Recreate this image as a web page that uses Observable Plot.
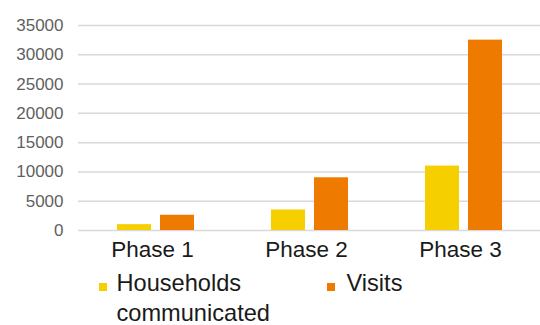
<!DOCTYPE html>
<html>
<head>
<meta charset="utf-8">
<script src="https://cdn.jsdelivr.net/npm/d3@7"></script>
<script src="https://cdn.jsdelivr.net/npm/@observablehq/plot@0.6"></script>
<style>
  html, body { margin: 0; padding: 0; background: #fff; }
  #wrap { position: relative; width: 540px; height: 325px; font-family: "Liberation Sans", Arial, sans-serif; }
  #chart svg { display: block; }
  .legend-item { position: absolute; font-size: 23.6px; line-height: 29.4px; color: #1a1a1a; white-space: nowrap; }
  .legend-item .swatch { position: absolute; width: 8px; height: 8px; }
</style>
</head>
<body>
<div id="wrap">
  <div id="chart"></div>
  <div id="legend"></div>
</div>
<script>
// Programme phases and the two measured series
const phases = ["Phase 1", "Phase 2", "Phase 3"];
const seriesNames = ["Households communicated", "Visits"];
const households = [1000, 3500, 11000];
const visits = [2600, 9000, 32500];
const yTicks = [0, 5000, 10000, 15000, 20000, 25000, 30000, 35000];
const colors = ["#F5CF00", "#EE7A00"];

const rows = phases.flatMap((p, i) => [
  {phase: p, series: seriesNames[0], value: households[i]},
  {phase: p, series: seriesNames[1], value: visits[i]}
]);

const chart = Plot.plot({
  width: 540,
  height: 265,
  marginTop: 25,
  marginBottom: 35,
  marginLeft: 77,
  marginRight: 0,
  style: {fontFamily: "'Liberation Sans', Arial, sans-serif", background: "#fff"},
  fx: {domain: phases, padding: 0, label: null},
  x: {domain: seriesNames, paddingInner: 0.21, paddingOuter: 0.88, axis: null},
  y: {domain: [0, 35000], ticks: yTicks, label: null},
  color: {domain: seriesNames, range: colors},
  marks: [
    Plot.gridY(yTicks, {stroke: "#d9d9d9", strokeOpacity: 1, strokeWidth: 1.5}),
    Plot.axisY(yTicks, {
      tickSize: 0, tickPadding: 15, tickFormat: d3.format("d"),
      fontSize: 17, fill: "#5f5f5f", label: null
    }),
    Plot.axisFx({
      anchor: "bottom", tickSize: 0, tickPadding: 11, fontSize: 22.5,
      fill: "#1a1a1a", label: null, dx: -3
    }),
    Plot.barY(rows, {fx: "phase", x: "series", y: "value", fill: "series"})
  ]
});
document.getElementById("chart").appendChild(chart);

// Legend below the plot
const legend = document.getElementById("legend");
const legendPos = [
  {swatchLeft: 99.3, textLeft: 116.5, text: "Households<br>communicated"},
  {swatchLeft: 326.7, textLeft: 346.5, text: "Visits"}
];
seriesNames.forEach((name, i) => {
  const item = document.createElement("div");
  item.className = "legend-item";
  item.style.left = legendPos[i].textLeft + "px";
  item.style.top = "269.4px";
  item.innerHTML = legendPos[i].text;
  const sw = document.createElement("span");
  sw.className = "swatch";
  sw.style.background = colors[i];
  sw.style.left = (legendPos[i].swatchLeft - legendPos[i].textLeft) + "px";
  sw.style.top = "13.9px";
  item.appendChild(sw);
  legend.appendChild(item);
});
</script>
</body>
</html>
